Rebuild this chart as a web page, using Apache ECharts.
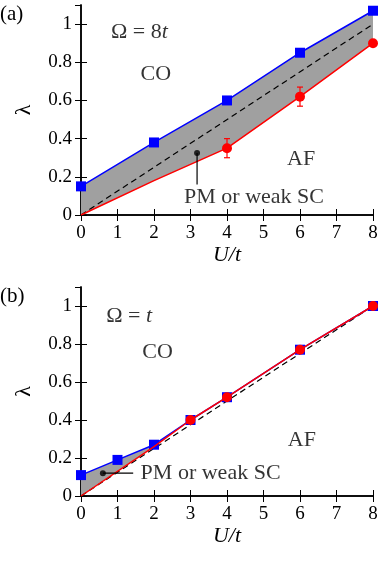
<!DOCTYPE html>
<html>
<head>
<meta charset="utf-8">
<script src="https://cdn.jsdelivr.net/npm/echarts@6/dist/echarts.min.js"></script>
<style>
html, body { margin: 0; padding: 0; background: #fff; }
#main { width: 382px; height: 583px; }
</style>
</head>
<body>
<div id="main"></div>
<script>
// panel (a): Omega = 8t
var aBlueX = [0, 2, 4, 6, 8];
var aBlueY = [0.15, 0.38, 0.60, 0.85, 1.07];
var aRedX = [0, 2, 4, 6, 8];
var aRedY = [0, 0.18, 0.35, 0.62, 0.90];
var aDotX = [4, 6, 8];
var aDotY = [0.35, 0.62, 0.90];
var aErr = [0.05, 0.05, 0];

// panel (b): Omega = t
var bBlueX = [0, 1, 2, 3, 4, 6, 8];
var bBlueY = [0.11, 0.19, 0.27, 0.40, 0.52, 0.77, 1.0];
var bRedX = [0, 2, 3, 4, 6, 8];
var bRedY = [0, 0.26, 0.40, 0.52, 0.77, 1.0];
var bDotX = [3, 4, 6, 8];
var bDotY = [0.40, 0.52, 0.77, 1.0];

// dashed guide lambda = U/8t
var guideX = [0, 8];
var guideY = [0, 1];

var xTicks = ['0', '1', '2', '3', '4', '5', '6', '7', '8'];
var yTicks = ['0', '0.2', '0.4', '0.6', '0.8', '1'];

var FONT = 'Liberation Serif';

function pairs(xs, ys) {
    return xs.map(function (x, i) { return [x, ys[i]]; });
}

var myChart = echarts.init(document.getElementById('main'));

function xAxes(gi) {
    var base = {
        type: 'value', gridIndex: gi, min: 0, max: 8, interval: 1,
        axisLine: { show: true, lineStyle: { color: '#000', width: 1.5 } },
        axisTick: { show: true, inside: true, length: 6, lineStyle: { color: '#000', width: 1 } },
        splitLine: { show: false }
    };
    return [
        Object.assign({}, base, {
            position: 'bottom',
            name: 'U/t', nameLocation: 'middle', nameGap: 26,
            nameTextStyle: { fontFamily: FONT, fontStyle: 'italic', fontSize: 22, color: '#000' },
            axisLabel: {
                fontFamily: FONT, fontSize: 19, color: '#000', margin: 9,
                formatter: function (v) { return xTicks[v]; }
            }
        }),
        Object.assign({}, base, { position: 'top', axisLabel: { show: false } })
    ];
}

function yAxes(gi) {
    var base = {
        type: 'value', gridIndex: gi, min: 0, max: 1.1, interval: 0.2,
        axisLine: { show: true, lineStyle: { color: '#000', width: 1.5 } },
        axisTick: { show: true, inside: true, length: 6, lineStyle: { color: '#000', width: 1 } },
        splitLine: { show: false }
    };
    return [
        Object.assign({}, base, {
            position: 'left',
            name: 'λ', nameLocation: 'middle', nameGap: 46,
            nameTextStyle: { fontFamily: FONT, fontSize: 22, color: '#000' },
            axisLabel: {
                fontFamily: FONT, fontSize: 19, color: '#000', margin: 9, showMaxLabel: false,
                formatter: function (v) {
                    var k = Math.round(v / 0.2);
                    return Math.abs(k * 0.2 - v) < 1e-6 ? yTicks[k] : '';
                }
            }
        }),
        Object.assign({}, base, { position: 'right', axisLabel: { show: false } })
    ];
}

function fillSeries(gi, upX, upY, loX, loY) {
    return {
        type: 'custom', xAxisIndex: gi * 2, yAxisIndex: gi * 2, z: 1, silent: true,
        data: [[0, 0]],
        renderItem: function (params, api) {
            var pts = [];
            upX.forEach(function (x, i) { pts.push(api.coord([x, upY[i]])); });
            for (var i = loX.length - 1; i >= 0; i--) pts.push(api.coord([loX[i], loY[i]]));
            return { type: 'polygon', shape: { points: pts }, style: { fill: '#a0a0a0', stroke: null } };
        }
    };
}

function guideSeries(gi) {
    return {
        type: 'line', xAxisIndex: gi * 2, yAxisIndex: gi * 2, z: 3, silent: true,
        data: pairs(guideX, guideY), showSymbol: false,
        lineStyle: { color: '#000', width: 1.2, type: [6, 4] }
    };
}

function lineSeries(gi, xs, ys, color, z) {
    return {
        type: 'line', xAxisIndex: gi * 2, yAxisIndex: gi * 2, z: z, silent: true,
        data: pairs(xs, ys), showSymbol: false,
        lineStyle: { color: color, width: 1.5 }
    };
}

function markSeries(gi, xs, ys, color, symbol, z) {
    return {
        type: 'scatter', xAxisIndex: gi * 2, yAxisIndex: gi * 2, z: z, silent: true,
        data: pairs(xs, ys), symbol: symbol, symbolSize: 10,
        itemStyle: { color: color, opacity: 1 }
    };
}

function errSeries(gi, xs, ys, err) {
    return {
        type: 'custom', xAxisIndex: gi * 2, yAxisIndex: gi * 2, z: 4, silent: true,
        data: xs.map(function (x, i) { return [x, ys[i] - err[i], ys[i] + err[i]]; }),
        encode: { x: 0, y: [1, 2] },
        renderItem: function (params, api) {
            var lo = api.coord([api.value(0), api.value(1)]);
            var hi = api.coord([api.value(0), api.value(2)]);
            var st = { stroke: '#f00', lineWidth: 1.2 };
            return {
                type: 'group',
                children: [
                    { type: 'line', shape: { x1: lo[0], y1: lo[1], x2: hi[0], y2: hi[1] }, style: st },
                    { type: 'line', shape: { x1: lo[0] - 3, y1: lo[1], x2: lo[0] + 3, y2: lo[1] }, style: st },
                    { type: 'line', shape: { x1: hi[0] - 3, y1: hi[1], x2: hi[0] + 3, y2: hi[1] }, style: st }
                ]
            };
        }
    };
}

function textSeries(gi, items) {
    return {
        type: 'scatter', xAxisIndex: gi * 2, yAxisIndex: gi * 2, z: 6, silent: true,
        symbolSize: 0,
        data: items.map(function (t) {
            return { value: [t.x, t.y], label: { formatter: t.text } };
        }),
        label: {
            show: true, position: 'inside', color: '#000', fontFamily: FONT, fontSize: 22,
            rich: {
                r: { fontFamily: FONT, fontSize: 22, color: '#000' },
                i: { fontFamily: FONT, fontSize: 22, color: '#000', fontStyle: 'italic' }
            }
        }
    };
}

function pointerSeries(gi, pts) {
    return [
        {
            type: 'line', xAxisIndex: gi * 2, yAxisIndex: gi * 2, z: 5, silent: true,
            data: pts, showSymbol: false, lineStyle: { color: '#000', width: 1.2 }
        },
        {
            type: 'scatter', xAxisIndex: gi * 2, yAxisIndex: gi * 2, z: 5, silent: true,
            data: [pts[0]], symbol: 'circle', symbolSize: 6, itemStyle: { color: '#000' }
        }
    ];
}

var option = {
    animation: false,
    grid: [
        { left: 81, width: 292, top: 5, height: 210 },
        { left: 81, width: 292, top: 287, height: 209 }
    ],
    xAxis: xAxes(0).concat(xAxes(1)),
    yAxis: yAxes(0).concat(yAxes(1)),
    graphic: [
        { type: 'text', left: 0, top: 4, style: { text: '(a)', fontFamily: FONT, fontSize: 21, fill: '#000' } },
        { type: 'text', left: 0, top: 286, style: { text: '(b)', fontFamily: FONT, fontSize: 21, fill: '#000' } }
    ],
    series: [
        fillSeries(0, aBlueX, aBlueY, aRedX, aRedY),
        guideSeries(0),
        lineSeries(0, aBlueX, aBlueY, '#0000ff', 3),
        markSeries(0, aBlueX, aBlueY, '#0000ff', 'rect', 3),
        lineSeries(0, aRedX, aRedY, '#ff0000', 4),
        errSeries(0, aDotX, aDotY, aErr),
        markSeries(0, aDotX, aDotY, '#ff0000', 'circle', 4),
        textSeries(0, [
            { x: 1.6, y: 0.955, text: '{r|Ω = 8}{i|t}' },
            { x: 2.05, y: 0.735, text: 'CO' },
            { x: 6.03, y: 0.29, text: 'AF' },
            { x: 4.74, y: 0.094, text: 'PM or weak SC' }
        ])
    ].concat(pointerSeries(0, [[3.18, 0.325], [3.18, 0.16]])).concat([
        fillSeries(1, bBlueX, bBlueY, bRedX, bRedY),
        guideSeries(1),
        lineSeries(1, bBlueX, bBlueY, '#0000ff', 3),
        markSeries(1, bBlueX, bBlueY, '#0000ff', 'rect', 3),
        lineSeries(1, bRedX, bRedY, '#ff0000', 4),
        markSeries(1, bDotX, bDotY, '#ff0000', 'circle', 4),
        textSeries(1, [
            { x: 1.32, y: 0.945, text: '{r|Ω = }{i|t}' },
            { x: 2.1, y: 0.756, text: 'CO' },
            { x: 6.05, y: 0.294, text: 'AF' },
            { x: 3.55, y: 0.12, text: 'PM or weak SC' }
        ])
    ]).concat(pointerSeries(1, [[0.6, 0.12], [1.43, 0.12]]))
};

myChart.setOption(option);
</script>
</body>
</html>
